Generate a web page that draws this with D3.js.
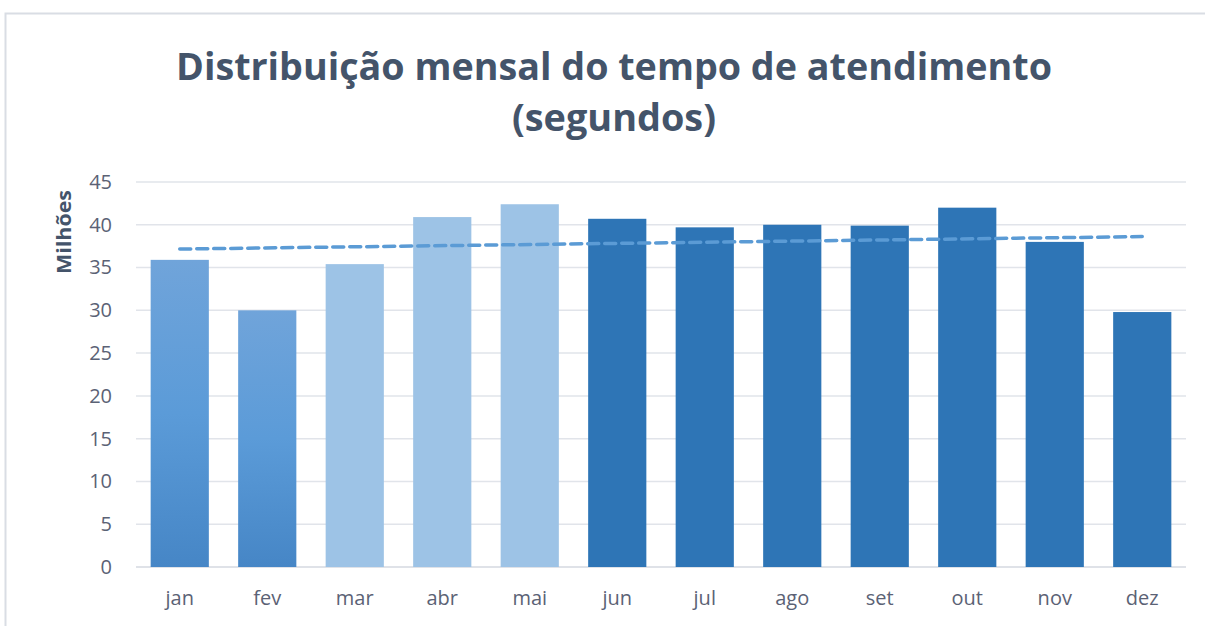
<!DOCTYPE html>
<html><head><meta charset="utf-8">
<script src="https://cdn.jsdelivr.net/npm/d3@7"></script>
<style>html,body{margin:0;padding:0;background:#fff;}svg{display:block;}</style>
</head><body>
<script>
const months = ["jan","fev","mar","abr","mai","jun","jul","ago","set","out","nov","dez"];
const values = [35.9,30.0,35.4,40.9,42.4,40.7,39.7,40.0,39.9,42.0,38.0,29.8];
const groups = ["grad","grad","light","light","light","dark","dark","dark","dark","dark","dark","dark"];
const yTicks = [0,5,10,15,20,25,30,35,40,45];
const titleLines = ["Distribuição mensal do tempo de atendimento","(segundos)"];
const yLabel = "Milhões";

const W=1205,H=626;
const svg=d3.select("body").append("svg").attr("width",W).attr("height",H);
const defs=svg.append("defs");
const g1=defs.append("linearGradient").attr("id","grad").attr("x1",0).attr("y1",0).attr("x2",0).attr("y2",1);
g1.append("stop").attr("offset","0%").attr("stop-color","#70a4da");
g1.append("stop").attr("offset","50%").attr("stop-color","#5b9bd8");
g1.append("stop").attr("offset","100%").attr("stop-color","#4686c6");
const fills={grad:"url(#grad)",light:"#9dc3e6",dark:"#2e75b6"};

// frame
svg.append("path").attr("d",`M5.5,${H} L5.5,13.5 L${W},13.5`).attr("fill","none").attr("stroke","#d9dde4").attr("stroke-width",2);

const x=d3.scaleBand().domain(months).range([136,1186]).paddingInner(0.335).paddingOuter(0.1675);
const y=d3.scaleLinear().domain([0,45]).range([567,182]);

// gridlines
svg.append("g").selectAll("line").data(yTicks).join("line")
 .attr("x1",136).attr("x2",1186).attr("y1",d=>y(d)).attr("y2",d=>y(d))
 .attr("stroke",d=>d===0?"#d5d9e0":"#e1e4ea").attr("stroke-width",1.5);

// y axis labels
const yAxis=d3.axisLeft(y).tickValues(yTicks).tickSize(0).tickPadding(0);
const ya=svg.append("g").attr("transform","translate(112,0)").call(yAxis);
ya.select(".domain").remove();
ya.selectAll("text").attr("font-family","'Open Sans', sans-serif").attr("font-size",20).attr("fill","#5b6275");

// x axis labels
const xAxis=d3.axisBottom(x).tickSize(0).tickPadding(0);
const xa=svg.append("g").attr("transform","translate(0,591)").call(xAxis);
xa.select(".domain").remove();
xa.selectAll("text").attr("font-family","'Open Sans', sans-serif").attr("font-size",20).attr("fill","#5b6275");

// bars
svg.append("g").selectAll("rect").data(months).join("rect")
 .attr("x",d=>x(d)).attr("width",x.bandwidth())
 .attr("y",(d,i)=>y(values[i])).attr("height",(d,i)=>y(0)-y(values[i]))
 .attr("fill",(d,i)=>fills[groups[i]]);

// linear trend (least squares)
const n=values.length, idx=d3.range(n);
const mx=d3.mean(idx), my=d3.mean(values);
const slope=d3.sum(idx,i=>(i-mx)*(values[i]-my))/d3.sum(idx,i=>(i-mx)*(i-mx));
const icpt=my-slope*mx;
const line=d3.line().x(i=>x(months[i])+x.bandwidth()/2).y(i=>y(icpt+slope*i));
svg.append("path").datum([0,n-1]).attr("d",line).attr("fill","none")
 .attr("stroke","#5b9bd5").attr("stroke-width",3.5).attr("stroke-dasharray","11,6").attr("stroke-linecap","round");

// y label
svg.append("text").attr("transform","translate(71,232) rotate(-90)").attr("text-anchor","middle")
 .attr("font-family","'Open Sans', sans-serif").attr("font-weight",700).attr("font-size",20).attr("fill","#44546a")
 .attr("textLength",84).attr("lengthAdjust","spacingAndGlyphs").text(yLabel);

// title
svg.append("text").attr("x",614).attr("y",80).attr("text-anchor","middle")
 .attr("font-family","'Open Sans', sans-serif").attr("font-weight",700).attr("font-size",37).attr("fill","#44546a")
 .attr("textLength",876).attr("lengthAdjust","spacingAndGlyphs").text(titleLines[0]);
svg.append("text").attr("x",614).attr("y",131).attr("text-anchor","middle")
 .attr("font-family","'Open Sans', sans-serif").attr("font-weight",700).attr("font-size",37).attr("fill","#44546a")
 .attr("textLength",204).attr("lengthAdjust","spacingAndGlyphs").text(titleLines[1]);
</script>
</body></html>
